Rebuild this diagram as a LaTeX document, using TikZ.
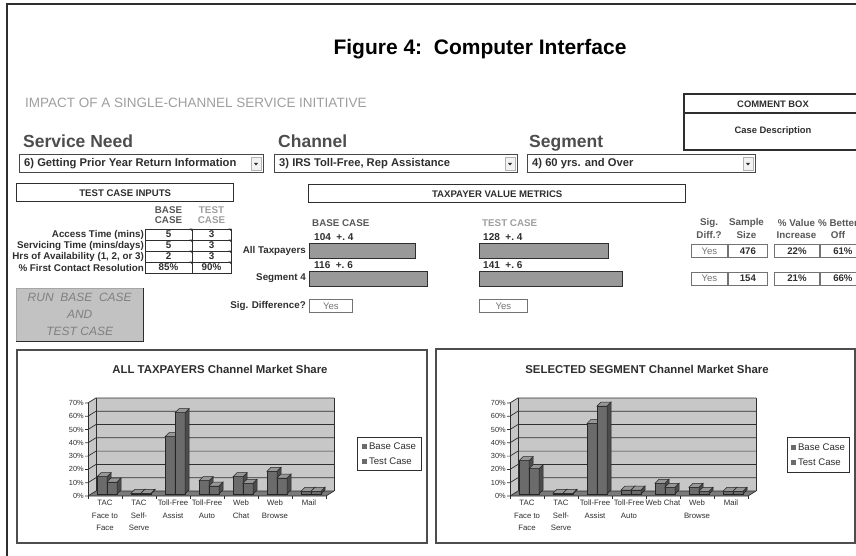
\documentclass[tikz,border=0pt]{standalone}
\usepackage{fontspec}
\setmainfont{Liberation Sans}
\usetikzlibrary{positioning}

\definecolor{inkdark}{gray}{0.18}
\definecolor{inksoft}{gray}{0.62}
\definecolor{inkmid}{gray}{0.45}
\definecolor{wallfill}{gray}{0.78}
\definecolor{floorfill}{gray}{0.48}
\definecolor{barface}{gray}{0.42}
\definecolor{btnfill}{gray}{0.76}
\definecolor{btntext}{gray}{0.5}

% one 3d column: left x, value in percent
\newcommand\cbar[2]{%
  \pgfmathsetmacro\barh{max(#2*1.333,0.6)}
  \filldraw[barfront] (#1,-2) rectangle ++(10,-\barh);
  \filldraw[barside] (#1+10,-2) -- ++(4,-4) -- ++(0,-\barh) -- ++(-4,4) -- cycle;
  \filldraw[bartop] (#1,-2-\barh) -- ++(4,-4) -- ++(10,0) -- ++(-4,4) -- cycle;
}

% market share chart: axis x, base/test values, category labels, name
\newcommand\sharechart[4]{%
  \begin{scope}[shift={(#1,496)}]
    \fill[wallfill] (0,0) -- (0,-93) -- (8,-98) -- (8,-5) -- cycle;
    \fill[wallfill] (8,-5) rectangle (246,-98);
    \fill[floorfill] (0,0) -- (238,0) -- (246,-5) -- (8,-5) -- cycle;
    \foreach \k in {0,...,7}{
      \pgfmathsetmacro\gy{-13.3*\k}
      \pgfmathtruncatemacro\pct{10*\k}
      \draw[gridline] (-3,\gy) -- (0,\gy) -- (8,\gy-5) -- (246,\gy-5);
      \node[ytick] (#4y\k) at (-4,\gy) {\pct\%};
    }
    \draw[gridline] (0,0) -- (0,-93);
    \draw[gridline] (8,-5) -- (8,-98);
    \draw[gridline] (246,-5) -- (246,-98);
    \draw[gridline] (0,0) -- (238,0) -- (246,-5);
    \foreach \i in {0,...,7} \draw[gridline] (34*\i,0) -- ++(0,3);
    \foreach \vb/\vt [count=\i from 0] in {#2}{
      \cbar{34*\i+9}{\vb}
      \cbar{34*\i+19}{\vt}
    }
    \foreach \lab [count=\i from 0] in {#3}
      \node[xtick] (#4x\i) at (34*\i+17,4) {\lab};
  \end{scope}}

% drop-down list: name, left x, right x, entry
\newcommand\dropdown[4]{%
  \draw[dropframe] (#2,155) rectangle (#3,173);
  \node[droptext] (#1) at (#2+5,164) {#4};
  \node[dropbtn] (#1btn) at (#3-7,164) {};
  \fill[inkdark] (#1btn.center) ++(-2,-1) -- ++(4,0) -- ++(-2,2.5) -- cycle;
}

\newcommand\keymark{\textcolor{barface}{\rule{5.5pt}{5.5pt}}}

\begin{document}
\begin{tikzpicture}[x=1pt,y=-1pt]
  \tikzset{
    pageframe/.style={draw=inkdark, line width=1.3pt},
    lbl/.style={inner sep=0, text=inkdark, font=\fontsize{9.8}{11}\selectfont\bfseries},
    hd/.style={lbl, text=inkdark!80},
    softhd/.style={lbl, text=inksoft},
    rowlabel/.style={lbl, anchor=east},
    cellbox/.style={draw=inkdark, line width=0.8pt, minimum height=11, inner sep=0, font=\fontsize{9.8}{11}\selectfont\bfseries, text=inkdark},
    headbox/.style={draw=inkdark, line width=1.4pt, inner sep=0, minimum height=18, font=\fontsize{9.6}{11}\selectfont\bfseries, text=inkdark},
    metricbar/.style={draw=inkdark, line width=0.9pt, fill=gray!80, minimum height=15, inner sep=0, anchor=west},
    yesbox/.style={draw=inkmid, line width=0.9pt, minimum height=13, inner sep=0, font=\fontsize{9.6}{11}\selectfont, text=inkmid},
    numbox/.style={draw=inkmid, line width=0.9pt, minimum height=13, inner sep=0, font=\fontsize{9.6}{11}\selectfont\bfseries, text=inkdark},
    dropframe/.style={draw=gray!55!black, line width=1pt},
    droptext/.style={anchor=west, inner sep=0, text=inkdark, font=\fontsize{11.2}{12}\selectfont\bfseries},
    dropbtn/.style={draw=gray!60, fill=gray!10, minimum width=10, minimum height=13, inner sep=0},
    runbtn/.style={fill=btnfill, draw=gray!70, align=center, text=btntext, inner sep=0, font=\fontsize{12}{17}\selectfont\itshape},
    chartframe/.style={draw=inkdark!85, line width=2pt},
    charttitle/.style={inner sep=0, text=inkdark, font=\fontsize{11.4}{12}\selectfont\bfseries},
    gridline/.style={draw=inkdark, line width=0.7pt},
    ytick/.style={anchor=east, inner sep=0, text=inkdark, font=\fontsize{7.4}{8}\selectfont},
    xtick/.style={anchor=north, align=center, inner sep=0, text=inkdark, font=\fontsize{7.8}{12.4}\selectfont},
    barfront/.style={fill=barface, draw=black!85, line width=0.5pt},
    barside/.style={fill=barface!70!black, draw=black!85, line width=0.5pt},
    bartop/.style={fill=barface!70!white, draw=black!85, line width=0.5pt},
    keybox/.style={draw=inkdark, line width=0.8pt, fill=white, align=left, inner sep=3pt, text=inkdark, font=\fontsize{9.6}{15}\selectfont}
  }
  \useasboundingbox (0,0) rectangle (856,556);
  \clip (0,0) rectangle (856,556);

  \draw[pageframe] (7,556) -- (7,4) -- (856,4);

  % heading
  \node[inner sep=0, anchor=base, font=\fontsize{21}{21}\selectfont\bfseries] (figtitle) at (480,55) {Figure 4:\ \ Computer Interface};
  \node[inner sep=0, anchor=base west, text=inksoft, font=\fontsize{13.5}{14}\selectfont] (impact) at (25,108) {IMPACT OF A SINGLE-CHANNEL SERVICE INITIATIVE};

  % comment box
  \draw[draw=inkdark, line width=1.2pt] (684,94) rectangle (870,150);
  \draw[draw=inkdark, line width=1.2pt] (684,113) -- (870,113);
  \node[lbl, font=\fontsize{9.4}{10}\selectfont\bfseries] (commenthd) at (773,104) {COMMENT BOX};
  \node[lbl, font=\fontsize{9.4}{10}\selectfont\bfseries] (casedesc) at (773,131) {Case Description};

  % selectors
  \node[inner sep=0, anchor=base west, text=inkdark!85, font=\fontsize{17.5}{18}\selectfont\bfseries] (needhd) at (23,148) {Service Need};
  \node[inner sep=0, anchor=base west, text=inkdark!85, font=\fontsize{17.5}{18}\selectfont\bfseries] (channelhd) at (278,148) {Channel};
  \node[inner sep=0, anchor=base west, text=inkdark!85, font=\fontsize{17.5}{18}\selectfont\bfseries] (segmenthd) at (529,148) {Segment};
  \dropdown{needsel}{19}{263}{6) Getting Prior Year Return Information}
  \dropdown{channelsel}{274}{517}{3) IRS Toll-Free, Rep Assistance}
  \dropdown{segmentsel}{527}{755}{4) 60 yrs. and Over}

  % test case inputs
  \node[headbox, minimum width=217, anchor=north west] (inputshd) at (16,183) {TEST CASE INPUTS};
  \node[hd] (basecol) at (168.5,210) {BASE};
  \node[hd, below=3pt of basecol] (basecol2) {CASE};
  \node[softhd] (testcol) at (211.5,210) {TEST};
  \node[softhd, below=3pt of testcol] (testcol2) {CASE};
  \foreach \r/\bv/\tv in {0/5/3, 1/5/3, 2/2/3, 3/85\%/90\%}{
    \node[cellbox, minimum width=47] (inb\r) at (168.5,234.5+11*\r) {\bv};
    \node[cellbox, minimum width=39] (int\r) at (211.5,234.5+11*\r) {\tv};
    \fill[inkdark] (inb\r.north east) -- ++(-3,0) -- ++(3,3) -- cycle;
    \fill[inkdark] (int\r.north east) -- ++(-3,0) -- ++(3,3) -- cycle;
  }
  \node[rowlabel] (accesslab) at (144,234.5) {Access Time (mins)};
  \node[rowlabel] (servicelab) at (144,245.5) {Servicing Time (mins/days)};
  \node[rowlabel] (hourslab) at (144,256.5) {Hrs of Availability (1, 2, or 3)};
  \node[rowlabel] (fcrlab) at (144,267.5) {\% First Contact Resolution};

  \node[runbtn, minimum width=127, minimum height=53, anchor=north west] (runcase) at (16,288) {RUN\ \ BASE\ \ CASE\\AND\\TEST CASE};
  \draw[gray!35!black, line width=1.6pt] (runcase.north east) -- (runcase.south east) -- (runcase.south west);

  % taxpayer value metrics
  \node[headbox, minimum width=377, anchor=north west] (metricshd) at (308,184) {TAXPAYER VALUE METRICS};
  \node[hd, anchor=west] (basemet) at (312,223) {BASE CASE};
  \node[softhd, anchor=west] (testmet) at (482,223) {TEST CASE};
  \node[rowlabel] (alltax) at (306,250.5) {All Taxpayers};
  \node[rowlabel] (segfour) at (306,278.5) {Segment 4};
  \node[rowlabel] (sigdiff) at (306,306) {Sig. Difference?};
  \node[lbl, anchor=west, font=\fontsize{10}{11}\selectfont\bfseries] (allbaseci) at (314,237) {104\ \ +.\ 4};
  \node[lbl, anchor=west, font=\fontsize{10}{11}\selectfont\bfseries] (segbaseci) at (314,265) {116\ \ +.\ 6};
  \node[lbl, anchor=west, font=\fontsize{10}{11}\selectfont\bfseries] (alltestci) at (483,237) {128\ \ +.\ 4};
  \node[lbl, anchor=west, font=\fontsize{10}{11}\selectfont\bfseries] (segtestci) at (483,265) {141\ \ +.\ 6};
  \node[metricbar, minimum width=106] (allbase) at (309,250.5) {};
  \node[metricbar, minimum width=118] (segbase) at (309,278.5) {};
  \node[metricbar, minimum width=129] (alltest) at (479,250.5) {};
  \node[metricbar, minimum width=143] (segtest) at (479,278.5) {};
  \node[yesbox, minimum width=43, anchor=west] (sigbase) at (309,306) {Yes};
  \node[yesbox, minimum width=48, anchor=west] (sigtest) at (479,306) {Yes};

  % significance and share columns
  \node[hd] (sighd) at (709,223) {Sig.};
  \node[hd] (sighd2) at (709,235) {Diff.?};
  \node[hd] (samplehd) at (746.5,223) {Sample};
  \node[hd] (samplehd2) at (746.5,235) {Size};
  \node[hd] (valuehd) at (796.5,223) {\% Value};
  \node[hd] (valuehd2) at (796.5,235) {Increase};
  \node[hd] (betterhd) at (838,223) {\% Better};
  \node[hd] (betterhd2) at (838,235) {Off};
  \node[yesbox, minimum width=36, anchor=west] (sigall) at (691,251) {Yes};
  \node[numbox, minimum width=39, right=0pt of sigall] (sizeall) {476};
  \node[numbox, minimum width=45, anchor=west] (incall) at (774,251) {22\%};
  \node[numbox, minimum width=45, right=0pt of incall] (betterall) {61\%};
  \node[yesbox, minimum width=36, anchor=west] (sigseg) at (691,278.5) {Yes};
  \node[numbox, minimum width=39, right=0pt of sigseg] (sizeseg) {154};
  \node[numbox, minimum width=45, anchor=west] (incseg) at (774,278.5) {21\%};
  \node[numbox, minimum width=45, right=0pt of incseg] (betterseg) {66\%};

  % channel market share charts
  \draw[chartframe] (17,350) rectangle (427,543);
  \node[charttitle] (alltitle) at (220,369) {ALL TAXPAYERS Channel Market Share};
  \sharechart{88}{13/9, 0.5/0.5, 43/61, 10/6, 13/8, 17/12, 2/2}{TAC\\Face to\\Face, TAC\\Self-\\Serve, Toll-Free\\Assist, Toll-Free\\Auto, Web\\Chat, Web\\Browse, Mail}{all}
  \node[keybox, minimum width=64, minimum height=33] (allkey) at (389,453.5) {\keymark\,Base Case\\\keymark\,Test Case};

  \draw[chartframe] (436,349) rectangle (855,543);
  \node[charttitle] (segtitle) at (647,369) {SELECTED SEGMENT Channel Market Share};
  \sharechart{510}{25/19, 0.5/0.5, 53/66, 3/3, 8/5, 5/2, 2/2}{TAC\\Face to\\Face, TAC\\Self-\\Serve, Toll-Free\\Assist, Toll-Free\\Auto, Web Chat, Web\\Browse, Mail}{seg}
  \node[keybox, minimum width=62, minimum height=35] (segkey) at (818,454.5) {\keymark\,Base Case\\\keymark\,Test Case};
\end{tikzpicture}
\end{document}
